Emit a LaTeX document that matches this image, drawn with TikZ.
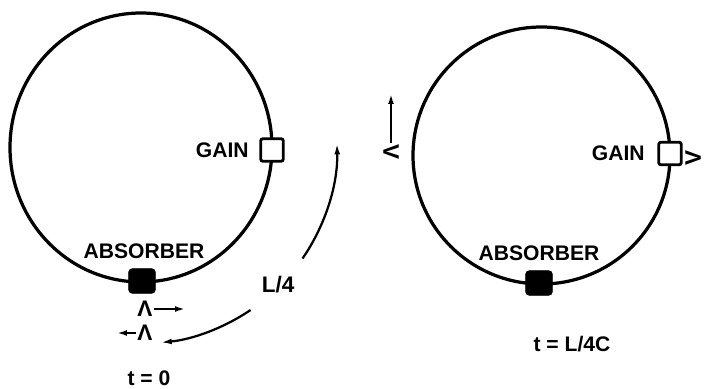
\documentclass[tikz,border=0pt]{standalone}
\usepackage{fontspec}
\setmainfont{Liberation Sans}
\usetikzlibrary{arrows.meta,calc}

\begin{document}
\begin{tikzpicture}[x=0.025cm, y=-0.025cm, >={Latex[length=8.5pt,width=4pt]},
    ring/.style={line width=2.3pt},
    gainbox/.style={draw, fill=white, line width=2pt, minimum width=16pt, minimum height=16pt, inner sep=0pt, rounded corners=1.5pt},
    absbox/.style={draw, fill=black, minimum width=19pt, minimum height=17.5pt, inner sep=0pt, rounded corners=2.5pt},
    lbl/.style={font=\fontsize{15}{18}\selectfont\bfseries, inner sep=1pt},
    pulse/.style={font=\fontsize{16}{18}\selectfont\bfseries, inner sep=1pt}]

\useasboundingbox (0,0) rectangle (709,388);

% t = 0
\coordinate (C1) at (141,147.5);
\draw[ring] (C1) ellipse [x radius=131, y radius=134.5];
\node[gainbox] at (272,150) (G1) {};
\node[absbox] at (142,281) (A1) {};
\node[lbl, anchor=east] at ($(G1.west)+(-9,0)$) (GL1) {GAIN};
\node[lbl] at (144,251) (AL1) {ABSORBER};

\node[pulse] at (145,309) (P1) {Λ};
\node[pulse] at (145,333) (P2) {Λ};
\coordinate (P1e) at (187,309);
\coordinate (P2e) at (115,333);
    \draw [->, line width=1.7pt] (P1) -- (P1e);
    \draw [->, line width=1.7pt] (P2) -- (P2e);

\coordinate (Ls) at ($(C1)+(84.5:196)$);
\coordinate (Lm) at ($(C1)+(34.5:196)$);
    \draw [<-, line width=1.6pt] (Ls) arc[start angle=84.5, end angle=56, radius=196];
    \draw [->, line width=1.6pt] (Lm) arc[start angle=34.5, end angle=-1.5, radius=196];
\node[lbl, font=\fontsize{16}{18}\selectfont\bfseries] at ($(C1)+(45:194)$) (L4) {L/4};

\node[lbl] at (149,378) (T1) {t = 0};

% t = L/4c
\coordinate (C2) at (541.5,155.5);
\draw[ring] (C2) circle [radius=128.5];
\node[gainbox] at (670,153.5) (G2) {};
\node[absbox] at (539,283) (A2) {};
\node[lbl, anchor=east] at ($(G2.west)+(-11,0)$) (GL2) {GAIN};
\node[lbl] at (539,253) (AL2) {ABSORBER};

\node[pulse, rotate=90] at (391,152) (P3) {Λ};
\coordinate (P3e) at (391,92);
    \draw [->, line width=1.7pt] (P3) -- (P3e);
\node[pulse, rotate=-90] at (693,158) (P4) {Λ};

\node[lbl] at (572,344) (T2) {t = L/4C};
\end{tikzpicture}
\end{document}
